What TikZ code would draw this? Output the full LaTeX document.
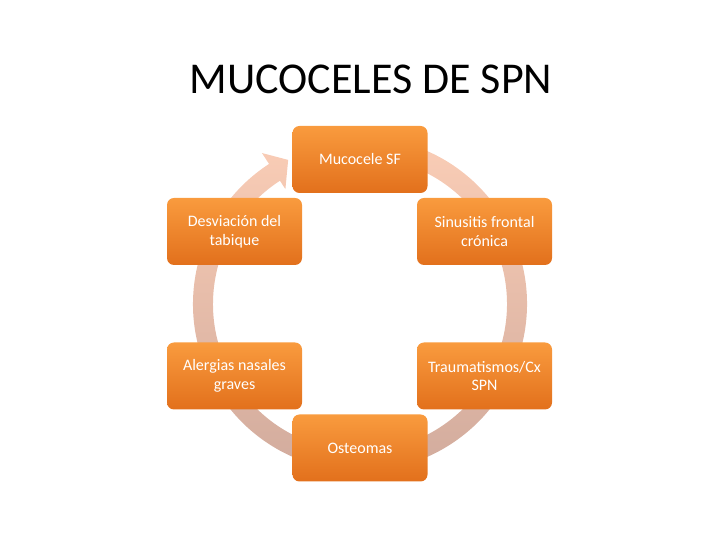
\documentclass[tikz,border=0pt]{standalone}
\usepackage{fontspec}
\setmainfont{Carlito}
\usepackage{tikz}
\usetikzlibrary{positioning,calc}

\definecolor{boxtop}{HTML}{F99B3E}
\definecolor{boxbot}{HTML}{E2701C}
\definecolor{ringtop}{HTML}{FACDB6}
\definecolor{ringbot}{HTML}{D0AA9C}

\begin{document}
\begin{tikzpicture}[
  x=1pt,y=1pt,
  stage/.style={rounded corners=7pt,minimum width=135pt,minimum height=67pt,align=center,
    top color=boxtop,bottom color=boxbot,text=white,inner sep=2pt,
    font=\fontsize{16}{18.5}\selectfont},
  heading/.style={font=\fontsize{44}{48}\selectfont,text=black}
]
\useasboundingbox (0,0) rectangle (720,540);
\coordinate (c) at (360,236);

% cycle ring with arrow head
\shade[top color=ringtop,bottom color=ringbot]
  ($(c)+(80:167)$) arc[start angle=80,end angle=-237,radius=167]
  -- ($(c)+(123:180)$) -- ($(c)+(116.5:161)$) -- ($(c)+(123:137)$)
  -- ($(c)+(123:147)$) arc[start angle=-237,end angle=80,radius=147] -- cycle;

\node[heading] (title) at (371,461) {MUCOCELES DE SPN};

\node[stage] (muco) at (360,380.5) {Mucocele SF};
\node[stage] (desv) at (234.5,308.5) {Desviación del\\tabique};
\node[stage] (sinu) at (484.5,308.5) {Sinusitis frontal\\crónica};
\node[stage] (aler) at (234.5,164) {Alergias nasales\\graves};
\node[stage] (trau) at (484.5,164) {Traumatismos/Cx\\SPN};
\node[stage] (oste) at (360,92) {Osteomas};
\end{tikzpicture}
\end{document}
